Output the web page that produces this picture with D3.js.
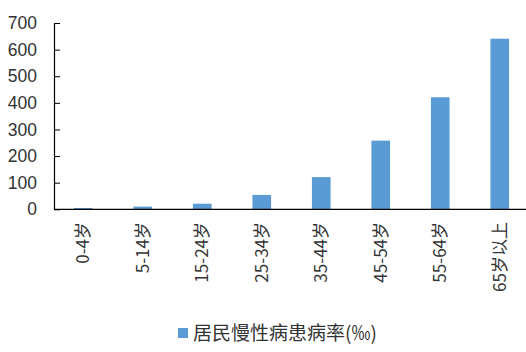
<!DOCTYPE html>
<html><head><meta charset="utf-8">
<script src="https://cdn.jsdelivr.net/npm/d3@7/dist/d3.min.js"></script>
<style>
html,body{margin:0;padding:0;background:#fff;}
svg{display:block;font-family:"Noto Sans CJK SC","Noto Sans",sans-serif;}
</style></head>
<body>
<svg id="c" width="526" height="352"></svg>
<script>
const categories = ["0-4岁","5-14岁","15-24岁","25-34岁","35-44岁","45-54岁","55-64岁","65岁以上"];
const values = [5, 10, 21, 54, 121, 258, 421, 641];
const yTicks = [0,100,200,300,400,500,600,700];
const seriesName = "居民慢性病患病率(‰)";

const svg = d3.select("#c");
const x0 = 54, yBottom = 209.3, yTop = 23;
const x = d3.scaleBand().domain(categories).range([53.5, 529.5]).paddingInner(0.686).paddingOuter(0.343);
const y = d3.scaleLinear().domain([0,700]).range([yBottom, yTop]);
const textColor = "#333333";

// bars
svg.append("g").selectAll("rect").data(values).join("rect")
  .attr("x", (d,i)=>x(categories[i]))
  .attr("y", d=>y(d))
  .attr("width", x.bandwidth())
  .attr("height", d=>yBottom - y(d))
  .attr("fill", "#5B9BD5");

// y axis
const ya = svg.append("g").attr("transform", `translate(${x0},0)`)
  .call(d3.axisLeft(y).tickValues(yTicks).tickSizeInner(-6).tickSizeOuter(0).tickPadding(17));
ya.select(".domain").attr("stroke", "#000").attr("stroke-width", 1.2);
ya.selectAll(".tick line").attr("stroke", "#000");
ya.selectAll(".tick text").attr("fill", textColor).attr("font-size", 17.5).attr("font-family", "inherit");

// x axis line
svg.append("line").attr("x1", x0).attr("x2", 526).attr("y1", yBottom).attr("y2", yBottom)
  .attr("stroke", "#000").attr("stroke-width", 1.2);

// category labels
svg.append("g").selectAll("text").data(categories).join("text")
  .attr("transform", d=>`translate(${x(d)+x.bandwidth()/2},222) rotate(-90)`)
  .attr("text-anchor", "end")
  .attr("dy", "0.35em")
  .attr("font-size", 17)
  .attr("fill", textColor)
  .text(d=>d);

// legend
svg.append("rect").attr("x", 178).attr("y", 328).attr("width", 10).attr("height", 10).attr("fill", "#5B9BD5");
svg.append("text").attr("x", 193).attr("y", 333).attr("dy", "0.35em")
  .attr("font-size", 19).attr("fill", textColor).text(seriesName);
</script>
</body></html>
